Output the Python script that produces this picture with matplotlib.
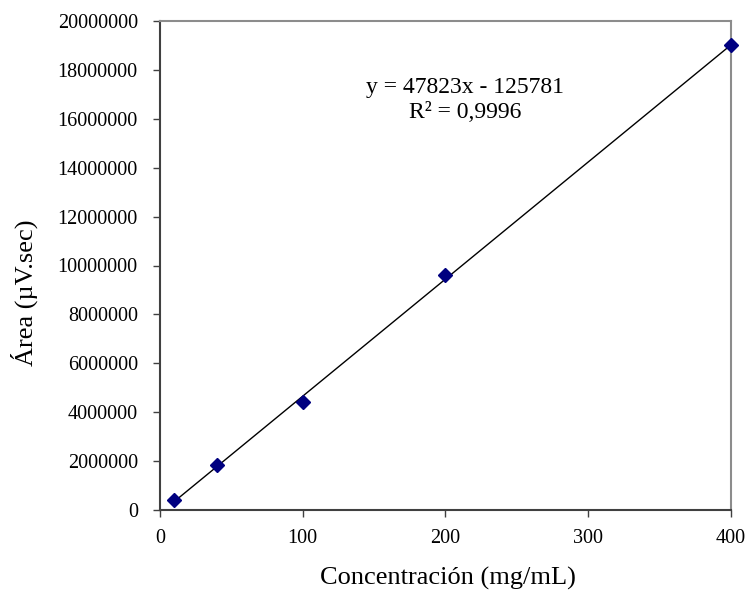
import numpy as np
import matplotlib
matplotlib.use('Agg')
import matplotlib.pyplot as plt

# calibration data
conc = [10, 40, 100, 200, 400]
area = [400000, 1850000, 4400000, 9600000, 19000000]
eq_text = 'y = 47823x - 125781\nR² = 0,9996'

plt.rcParams['font.family'] = ['Liberation Serif', 'DejaVu Serif']

fig = plt.figure(figsize=(7.49, 5.9), dpi=100)
ax = fig.add_axes([0.2136, 0.1356, 0.7623, 0.8288])

# linear trendline
m, b = np.polyfit(conc, area, 1)
xs = np.array([min(conc), max(conc)])
ax.plot(xs, m * xs + b, color='black', lw=1)
ax.plot(conc, area, 'D', color='#000080', ms=7, ls='none', clip_on=False,
        zorder=5)

ax.set_xlim(0, 400)
ax.set_ylim(0, 20000000)
ax.set_xticks(range(0, 401, 100))
ax.set_yticks(range(0, 20000001, 2000000))
ax.ticklabel_format(style='plain', useOffset=False)
ax.tick_params(direction='out', length=5, width=1, color='#404040',
               labelsize=14.5)
ax.tick_params(axis='y', pad=11)
ax.tick_params(axis='x', pad=9)
for side, s in ax.spines.items():
    s.set_linewidth(1.5)
    s.set_color('#404040' if side in ('left', 'bottom') else '#8c8c8c')

ax.set_xlabel('Concentración (mg/mL)', fontsize=19, va='center')
ax.set_ylabel('Área (µV.sec)', fontsize=19, va='center')
ax.xaxis.set_label_coords(0.505, -0.139)
ax.yaxis.set_label_coords(-0.237, 0.445)

ax.text(0.535, 0.838, eq_text, transform=ax.transAxes, ha='center',
        va='center', fontsize=17, linespacing=1.25)

fig.savefig('out.png', dpi=100)
